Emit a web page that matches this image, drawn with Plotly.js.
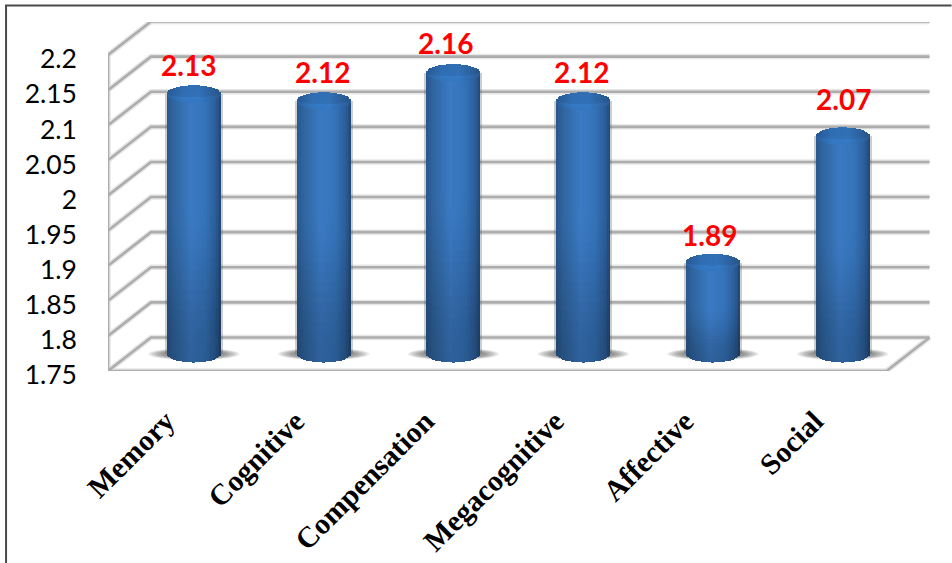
<!DOCTYPE html>
<html>
<head>
<meta charset="utf-8">
<script src="https://cdn.plot.ly/plotly-3.0.1.min.js"></script>
<style>html,body{margin:0;padding:0;background:#fff}#chart{width:952px;height:563px}</style>
</head>
<body>
<div id="chart"></div>
<script>
// Strategy scores
const categories = ["Memory", "Cognitive", "Compensation", "Megacognitive", "Affective", "Social"];
const scores = [2.13, 2.12, 2.16, 2.12, 1.89, 2.07];
const scoreTicks = [1.75, 1.8, 1.85, 1.9, 1.95, 2, 2.05, 2.1, 2.15, 2.2];
const scoreTickText = ["1.75", "1.8", "1.85", "1.9", "1.95", "2", "2.05", "2.1", "2.15", "2.2"];

// Pixel scale of the front plane of the pseudo-3D box
const W = 952, H = 563;
const boxLeft = 108, boxBottom = 371, boxTop = 22;
const pxPerCat = 129.83, pxPerScore = 702.2;
const boxRight = boxLeft + 6.35 * pxPerCat;
const px = n => n / pxPerCat;
const py = n => n / pxPerScore;

const yMin = scoreTicks[0], yMax = yMin + py(boxBottom - boxTop);
const depthX = px(43), depthY = py(33.5);
const colShift = py(10);              // cylinders stand behind the front plane
const colCentre = i => i + px(21);
const floorLevel = yMin + py(7);      // base centre, on the cylinder axis
const halfW = px(27), capB = py(8.5);
const STRIPS = 36, SEGS = 26, CAPSEGS = 6;
const stripW = 2 * halfW / STRIPS;

// Colour helpers
const hex = h => [1, 3, 5].map(k => parseInt(h.substr(k, 2), 16));
function ramp(stops, t) {
  for (let k = 1; k < stops.length; k++) {
    if (t <= stops[k][0]) {
      const [a, ca] = stops[k - 1], [b, cb] = stops[k];
      const f = (t - a) / (b - a);
      return hex(ca).map((c, j) => c + (hex(cb)[j] - c) * f);
    }
  }
  return hex(stops[stops.length - 1][1]);
}
const rgb = (c, m) => "rgb(" + c.map(v => Math.min(255, Math.round(v * m))).join(",") + ")";
const smooth = t => { const q = Math.min(1, Math.max(0, t)); return q * q * (3 - 2 * q); };
const bodyStops = [[-1.01, "#28568e"], [-0.75, "#2f659f"], [-0.1, "#3b7ac4"], [0.45, "#3472b8"], [0.82, "#2b5d98"], [1.01, "#1f4670"]];
const capStops = [[-1.01, "#285a96"], [-0.4, "#3170b6"], [0.2, "#3272b9"], [1.01, "#28568c"]];

// Every cylinder is a fan of thin bars, shaded across and up its height
const sx = [], sBase = [], sLen = [], sCol = [];
const cx = [], cBase = [], cLen = [], cCol = [];
scores.forEach((v, i) => {
  for (let s = 0; s < STRIPS; s++) {
    const u = (s + 0.5) / STRIPS * 2 - 1;
    const arc = Math.sqrt(1 - u * u);
    const x = colCentre(i) + u * halfW;
    const lo = floorLevel - arc * capB;
    const seg = (v - lo) / SEGS;
    for (let k = 0; k < SEGS; k++) {
      const t = (k + 0.5) / SEGS;
      const m = 0.8 + 0.2 * smooth(t / 0.6);
      sx.push(x); sBase.push(lo + k * seg); sLen.push(seg + py(0.5));
      sCol.push(rgb(ramp(bodyStops, u), m));
    }
    const capLen = 2 * arc * capB / CAPSEGS;
    for (let k = 0; k < CAPSEGS; k++) {
      const t = (k + 0.5) / CAPSEGS;
      const glow = t < 0.45 ? 1.18 - 0.45 * t : 0.98;
      const edge = t < 0.2 ? 0.92 : 1;
      cx.push(x); cBase.push(v - arc * capB + k * capLen); cLen.push(capLen + py(0.4));
      cCol.push(rgb(ramp(capStops, u), glow * edge));
    }
  }
});

// Box frame: walls, floor and the gridlines that wrap round them
const gx = [], gy = [];
scoreTicks.forEach(v => {
  gx.push(-0.5, -0.5 + depthX, 5.5 + depthX, null);
  gy.push(v, v + depthY, v + depthY, null);
});
gx.push(-0.5, -0.5, null, -0.5, 5.5, 5.5 + depthX, null);
gy.push(yMin, scoreTicks[scoreTicks.length - 1], null, yMin, yMin, yMin + depthY, null);

const gridHalo = { x: gx, y: gy, type: "scatter", mode: "lines", line: { color: "#e6e6e6", width: 5.5 }, hoverinfo: "skip", xaxis: "x", yaxis: "y" };
const gridCore = { x: gx, y: gy, type: "scatter", mode: "lines", line: { color: "#adadad", width: 2.6 }, hoverinfo: "skip", xaxis: "x", yaxis: "y" };

const halo = {
  type: "bar", x: scores.map((v, i) => colCentre(i)),
  base: scores.map(() => floorLevel), y: scores.map(v => v - floorLevel),
  width: px(58), marker: { color: "rgba(80,80,80,0.28)", line: { width: 0 } },
  hoverinfo: "skip", xaxis: "x", yaxis: "y2"
};
const body = {
  type: "bar", x: sx, base: sBase, y: sLen, width: stripW * 1.02,
  marker: { color: sCol, line: { width: 0 } }, hoverinfo: "skip", xaxis: "x", yaxis: "y2"
};
const cap = {
  type: "bar", x: cx, base: cBase, y: cLen, width: stripW * 1.02,
  marker: { color: cCol, line: { width: 0 } }, hoverinfo: "skip", xaxis: "x", yaxis: "y2"
};

// Soft contact shadows on the floor
const shadows = [];
scores.forEach((v, i) => {
  [[46, 6], [44, 5.7], [42, 5.4], [40, 5.2], [38, 5], [36, 4.8], [34, 4.6], [32, 4.4]].forEach(([w, h]) => {
    shadows.push({
      type: "circle", layer: "below", xref: "x", yref: "y2",
      x0: colCentre(i) - px(w), x1: colCentre(i) + px(w),
      y0: floorLevel - py(h), y1: floorLevel + py(h),
      fillcolor: "rgba(70,70,70,0.09)", line: { width: 0 }
    });
  });
});

// Outer frame, open on the right and at the bottom
const plotW = boxRight - boxLeft, plotH = boxBottom - boxTop;
const frame = {
  type: "path", xref: "paper", yref: "paper", layer: "above",
  path: "M " + ((6 - boxLeft) / plotW) + " " + ((boxBottom - H) / plotH) +
        " L " + ((6 - boxLeft) / plotW) + " " + ((boxBottom - 5.5) / plotH) +
        " L " + ((W - boxLeft) / plotW) + " " + ((boxBottom - 5.5) / plotH),
  line: { color: "#4a4a4a", width: 2 }
};

// Red value labels, each placed by hand above its cylinder
const labelNudge = [[-5, 29], [-1, 29], [-8, 30], [-2, 29], [-3, 28], [1, 37]];
const labels = scores.map((v, i) => ({
  x: colCentre(i), y: v, xref: "x", yref: "y2",
  text: v.toFixed(2), showarrow: false,
  xshift: labelNudge[i][0], yshift: labelNudge[i][1],
  xanchor: "center", yanchor: "middle",
  font: { family: "Lato, 'Open Sans', sans-serif", size: 28, color: "#ff0000", weight: 700 }
}));

const layout = {
  width: W, height: H,
  margin: { l: boxLeft, r: W - boxRight, t: boxTop, b: H - boxBottom, pad: 0 },
  paper_bgcolor: "#ffffff", plot_bgcolor: "rgba(0,0,0,0)",
  showlegend: false, hovermode: false, barmode: "overlay", bargap: 0,
  xaxis: {
    range: [-0.5, 5.85], tickmode: "array",
    tickvals: categories.map((c, i) => i - px(7)), ticktext: categories,
    tickangle: -45, ticklen: 0, showgrid: false, showline: false, zeroline: false,
    ticklabelstandoff: 26,
    tickfont: { family: "'Liberation Serif', serif", size: 29.5, color: "#000000", weight: 700 }
  },
  yaxis: {
    range: [yMin, yMax], tickmode: "array", tickvals: scoreTicks, ticktext: scoreTickText,
    ticklen: 0, showgrid: false, showline: false, zeroline: false,
    ticklabelstandoff: 30, ticklabelshift: 4,
    tickfont: { family: "Lato, 'Open Sans', sans-serif", size: 26.5, color: "#000000" }
  },
  yaxis2: {
    overlaying: "y", range: [yMin - colShift, yMax - colShift], visible: false
  },
  shapes: shadows.concat([frame]),
  annotations: labels
};

Plotly.newPlot("chart", [gridHalo, gridCore, halo, body, cap], layout, { displayModeBar: false, staticPlot: true });
</script>
</body>
</html>
